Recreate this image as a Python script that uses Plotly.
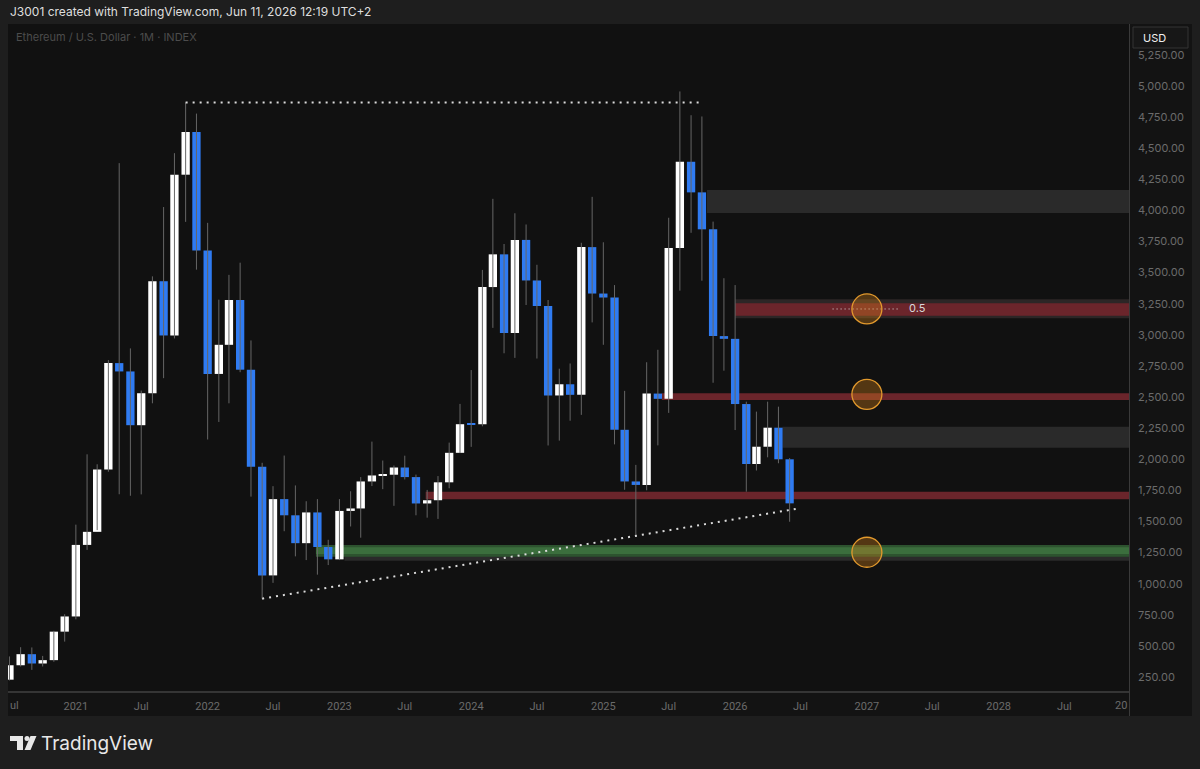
import plotly.graph_objects as go

# ETH / USD monthly candles
months = [
    "2020-07-01", "2020-08-01", "2020-09-01", "2020-10-01", "2020-11-01", "2020-12-01",
    "2021-01-01", "2021-02-01", "2021-03-01", "2021-04-01", "2021-05-01", "2021-06-01",
    "2021-07-01", "2021-08-01", "2021-09-01", "2021-10-01", "2021-11-01", "2021-12-01",
    "2022-01-01", "2022-02-01", "2022-03-01", "2022-04-01", "2022-05-01", "2022-06-01",
    "2022-07-01", "2022-08-01", "2022-09-01", "2022-10-01", "2022-11-01", "2022-12-01",
    "2023-01-01", "2023-02-01", "2023-03-01", "2023-04-01", "2023-05-01", "2023-06-01",
    "2023-07-01", "2023-08-01", "2023-09-01", "2023-10-01", "2023-11-01", "2023-12-01",
    "2024-01-01", "2024-02-01", "2024-03-01", "2024-04-01", "2024-05-01", "2024-06-01",
    "2024-07-01", "2024-08-01", "2024-09-01", "2024-10-01", "2024-11-01", "2024-12-01",
    "2025-01-01", "2025-02-01", "2025-03-01", "2025-04-01", "2025-05-01", "2025-06-01",
    "2025-07-01", "2025-08-01", "2025-09-01", "2025-10-01", "2025-11-01", "2025-12-01",
    "2026-01-01", "2026-02-01", "2026-03-01", "2026-04-01", "2026-05-01", "2026-06-01",
]
opens = [
    229, 345, 434, 359, 386, 615,
    737, 1312, 1417, 1918, 2773, 2706,
    2274, 2531, 3431, 2995, 4287, 4630,
    3677, 2686, 2920, 3280, 2720, 1940,
    1067, 1680, 1550, 1326, 1573, 1295,
    1196, 1585, 1605, 1822, 1870, 1876,
    1934, 1857, 1645, 1671, 1815, 2052,
    2283, 2282, 3384, 3647, 3015, 3763,
    3437, 3232, 2513, 2603, 2518, 3705,
    3332, 3300, 2237, 1822, 1794, 2528,
    2486, 3697, 4391, 4145, 3848, 2990,
    2968, 2444, 1962, 2101, 2254, 2000,
]
highs = [
    416, 490, 488, 420, 622, 755,
    1475, 2040, 1960, 2797, 4380, 2891,
    2552, 3470, 4027, 4460, 4868, 4778,
    3900, 3283, 3482, 3580, 2955, 1972,
    1784, 2030, 1790, 1663, 1680, 1353,
    1680, 1743, 1857, 2142, 1990, 1950,
    2029, 1877, 1754, 1865, 2134, 2445,
    2717, 3522, 4093, 3730, 3977, 3887,
    3563, 3280, 2728, 2770, 3740, 4109,
    3744, 3400, 2550, 1955, 2780, 2880,
    3941, 4956, 4765, 4755, 3910, 3455,
    3400, 2463, 2383, 2463, 2423, 2010,
]
lows = [
    223, 335, 308, 335, 373, 535,
    714, 1272, 1431, 1900, 1719, 1707,
    1718, 2450, 2652, 2971, 3908, 3524,
    2159, 2300, 2450, 2700, 1700, 880,
    1007, 1422, 1220, 1190, 1073, 1150,
    1190, 1460, 1370, 1785, 1760, 1626,
    1838, 1550, 1531, 1521, 1767, 2050,
    2100, 2265, 3056, 2852, 2815, 3240,
    2810, 2111, 2150, 2310, 2357, 3100,
    2920, 2120, 1755, 1385, 1751, 2112,
    2373, 3355, 3820, 3435, 2615, 2712,
    2235, 1740, 1910, 2016, 1968, 1498,
]
closes = [
    345, 434, 359, 386, 615, 737,
    1312, 1417, 1918, 2773, 2706, 2274,
    2531, 3431, 2995, 4287, 4630, 3677,
    2686, 2920, 3280, 2720, 1940, 1067,
    1680, 1550, 1326, 1573, 1295, 1196,
    1585, 1605, 1822, 1870, 1876, 1934,
    1857, 1645, 1671, 1815, 2052, 2282,
    2282, 3384, 3647, 3015, 3763, 3437,
    3232, 2513, 2603, 2518, 3705, 3332,
    3300, 2237, 1822, 1794, 2528, 2486,
    3697, 4391, 4145, 3848, 2990, 2968,
    2444, 1962, 2101, 2254, 2000, 1646,
]

# drawn levels: (start, low, high)
grey_zones = [("2025-10-15", 3979, 4164), ("2026-05-12", 2093, 2262), ("2023-01-15", 1185, 1222)]
red_outer = [("2026-01-01", 3133, 3286)]
red_zones = [("2026-01-01", 3154, 3254), ("2025-06-12", 2476, 2530), ("2023-08-28", 1679, 1739)]
green_zone = ("2022-10-28", 1217, 1311)
circle_x = "2027-01-01"
circle_prices = [3208, 2522, 1253]
ath_line = (("2021-11-01", 4868), ("2025-09-25", 4868))
trend_line = (("2022-06-01", 880), ("2026-06-22", 1603))
fib_line = (("2026-09-28", 3208), ("2027-03-27", 3208))

price_ticks = list(range(250, 5251, 250))
time_ticks = [f"{y}-{m}-01" for y in range(2021, 2029) for m in ("01", "07")]
time_text = [t[:4] if t[5:7] == "01" else "Jul" for t in time_ticks]

W, H = 1200, 769
BLUE = "#2f7bf2"
WICK = "#666666"
AXIS_TXT = "#6b6b6b"
X_END = "2029-06-01"


def px(x):
    return x / W


def py(y):
    return 1 - y / H


wick_x, wick_y = [], []
for m, lo, hi in zip(months, lows, highs):
    wick_x += [m, m, None]
    wick_y += [lo, hi, None]

body_base = [min(o, c) for o, c in zip(opens, closes)]
body_len = [max(abs(c - o), 9) for o, c in zip(opens, closes)]
body_col = ["#ffffff" if c >= o else BLUE for o, c in zip(opens, closes)]

fig = go.Figure()
fig.add_trace(go.Scatter(x=wick_x, y=wick_y, mode="lines",
                         line=dict(color=WICK, width=1), hoverinfo="skip", showlegend=False))
fig.add_trace(go.Bar(x=months, y=body_len, base=body_base, width=23 * 86400000,
                     marker=dict(color=body_col, line=dict(width=0)),
                     hoverinfo="skip", showlegend=False))

shapes = []
# panels around the chart
shapes.append(dict(type="rect", xref="paper", yref="paper", x0=px(8), x1=px(1192),
                   y0=py(716), y1=py(692), fillcolor="#131313", line_width=0, layer="below"))
shapes.append(dict(type="rect", xref="paper", yref="paper", x0=px(1129), x1=px(1192),
                   y0=py(716), y1=py(24), fillcolor="#131313", line_width=0, layer="below"))
shapes.append(dict(type="line", xref="paper", yref="paper", x0=px(1129.5), x1=px(1129.5),
                   y0=py(716), y1=py(24), line=dict(color="#3a3a3a", width=1)))
shapes.append(dict(type="line", xref="paper", yref="paper", x0=px(8), x1=px(1129),
                   y0=py(692), y1=py(692), line=dict(color="#353535", width=2)))

for x0, lo, hi in grey_zones:
    shapes.append(dict(type="rect", x0=x0, x1=X_END, y0=lo, y1=hi,
                       fillcolor="#2a2a2a", line_width=0, layer="below"))
for x0, lo, hi in red_outer:
    shapes.append(dict(type="rect", x0=x0, x1=X_END, y0=lo, y1=hi,
                       fillcolor="#2c2626", line_width=0, layer="below"))
for x0, lo, hi in red_zones:
    shapes.append(dict(type="rect", x0=x0, x1=X_END, y0=lo, y1=hi,
                       fillcolor="#6b252b", line_width=0, layer="below"))
gx0, glo, ghi = green_zone
shapes.append(dict(type="rect", x0=gx0, x1=X_END, y0=glo, y1=ghi,
                   fillcolor="#2d532f", line_width=0, layer="below"))
shapes.append(dict(type="rect", x0=gx0, x1=X_END, y0=glo + 22, y1=ghi - 18,
                   fillcolor="#3b6e3d", line_width=0, layer="below"))

for (a, b), w, dash in [(ath_line, 2, "2px,5px"), (trend_line, 2, "2px,5px"), (fib_line, 1, "1px,3px")]:
    shapes.append(dict(type="line", x0=a[0], y0=a[1], x1=b[0], y1=b[1],
                       line=dict(color="#dcdcdc", width=w, dash=dash)))

for p in circle_prices:
    shapes.append(dict(type="circle", xsizemode="pixel", ysizemode="pixel",
                       xanchor=circle_x, yanchor=p, x0=-15, x1=15, y0=-15, y1=15,
                       fillcolor="rgba(226,138,24,0.32)", line=dict(color="#e39a2d", width=1.3)))

# USD box
shapes.append(dict(type="rect", xref="paper", yref="paper", x0=px(1133), x1=px(1188),
                   y0=py(48), y1=py(27), fillcolor="#171717", line=dict(color="#343434", width=1)))

# TradingView logo glyph
def path(points):
    return "M " + " L ".join(f"{px(x)},{py(y)}" for x, y in points) + " Z"


shapes.append(dict(type="path", xref="paper", yref="paper",
                   path=path([(10, 736), (23, 736), (23, 750), (17, 750), (17, 741), (10, 741)]),
                   fillcolor="#e8e8e8", line_width=0))
shapes.append(dict(type="circle", xref="paper", yref="paper", x0=px(24.5), x1=px(29.5),
                   y0=py(741), y1=py(736), fillcolor="#e8e8e8", line_width=0))
shapes.append(dict(type="path", xref="paper", yref="paper",
                   path=path([(30.5, 736), (36.5, 736), (30.5, 750), (24.5, 750)]),
                   fillcolor="#e8e8e8", line_width=0))

annotations = [
    dict(text="J3001 created with TradingView.com, Jun 11, 2026 12:19 UTC+2",
         x=px(8), y=py(12), xanchor="left", yanchor="middle",
         font=dict(size=12, color="#dedede")),
    dict(text="Ethereum / U.S. Dollar · 1M · INDEX", x=px(14), y=py(37),
         xanchor="left", yanchor="middle", font=dict(size=11, color="#4c4c4c")),
    dict(text="USD", x=px(1141), y=py(38), xanchor="left", yanchor="middle",
         font=dict(size=11, color="#f0f0f0")),
    dict(text="0.5", x=px(907), y=py(308), xanchor="left", yanchor="middle",
         font=dict(size=11, color="#d8d8d8")),
    dict(text="ul", x=px(8), y=py(705), xanchor="left", yanchor="middle",
         font=dict(size=11, color=AXIS_TXT, family="Roboto")),
    dict(text="20", x=px(1129), y=py(705), xanchor="right", yanchor="middle",
         font=dict(size=11, color=AXIS_TXT, family="Roboto")),
    dict(text="TradingView", x=px(39), y=py(743), xanchor="left", yanchor="middle",
         font=dict(size=19, color="#e8e8e8", family="Inter")),
]
for a in annotations:
    a.update(xref="paper", yref="paper", showarrow=False)

fig.update_layout(
    width=W, height=H,
    margin=dict(l=0, r=0, t=0, b=0),
    paper_bgcolor="#1e1e1e",
    plot_bgcolor="#111111",
    font=dict(family="Inter, Roboto, sans-serif"),
    barmode="overlay",
    showlegend=False,
    shapes=shapes,
    annotations=annotations,
    xaxis=dict(
        type="date", range=["2020-06-27", "2028-12-27"],
        domain=[px(8), px(1129)],
        tickvals=time_ticks, ticktext=time_text,
        tickfont=dict(size=11, color=AXIS_TXT, family="Roboto"),
        ticks="", showgrid=False, zeroline=False, showline=False,
        ticklabelstandoff=6, fixedrange=True,
    ),
    yaxis=dict(
        range=[130, 5498], domain=[py(692), py(24)], side="right",
        tickvals=price_ticks, ticktext=[f"{v:,.2f}" for v in price_ticks],
        tickfont=dict(size=11, color=AXIS_TXT),
        ticks="", showgrid=False, zeroline=False, showline=False,
        ticklabelstandoff=8, fixedrange=True,
    ),
)

# the page body has a default 8px margin; remove it so the figure fills the window
fig.write_html("out.html", config={"displayModeBar": False},
               post_script="document.body.style.margin='0';document.body.style.overflow='hidden';")
